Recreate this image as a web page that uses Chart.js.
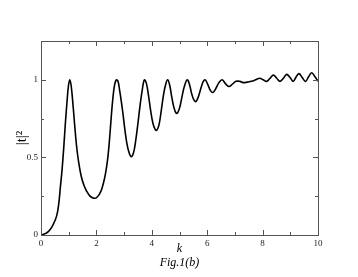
<!DOCTYPE html>
<html><head><meta charset="utf-8">
<script src="https://cdn.jsdelivr.net/npm/chart.js@4"></script>
<style>html,body{margin:0;padding:0;background:#fff}</style>
</head><body>
<canvas id="c" width="358" height="277"></canvas>
<script>
const kValues = [0,0.1,0.2,0.31,0.43,0.56,0.64,0.7,0.76,0.82,0.88,0.94,0.99,1.04,1.09,1.15,1.21,1.28,1.35,1.45,1.55,1.64,1.76,1.88,1.95,2.0,2.1,2.2,2.3,2.36,2.42,2.48,2.54,2.6,2.66,2.72,2.78,2.84,2.9,2.96,3.02,3.1,3.18,3.26,3.34,3.42,3.5,3.58,3.66,3.73,3.8,3.88,3.96,4.04,4.12,4.18,4.26,4.34,4.42,4.5,4.57,4.64,4.72,4.8,4.88,4.94,5.02,5.1,5.18,5.28,5.36,5.44,5.52,5.59,5.68,5.78,5.86,5.93,6.02,6.12,6.2,6.3,6.42,6.54,6.66,6.78,6.9,7.04,7.18,7.3,7.45,7.6,7.75,7.9,8.02,8.15,8.27,8.39,8.51,8.63,8.75,8.87,8.99,9.1,9.2,9.31,9.43,9.55,9.66,9.77,9.89,10];
const t2Values = [0,0.005,0.013,0.03,0.064,0.12,0.2,0.31,0.42,0.56,0.72,0.86,0.96,1.0,0.96,0.85,0.72,0.58,0.48,0.38,0.32,0.285,0.252,0.238,0.237,0.24,0.26,0.3,0.37,0.43,0.51,0.63,0.77,0.89,0.97,1.0,0.99,0.93,0.86,0.78,0.69,0.59,0.53,0.505,0.53,0.61,0.72,0.84,0.94,1.0,0.98,0.9,0.8,0.72,0.68,0.675,0.71,0.8,0.9,0.97,1.0,0.97,0.89,0.82,0.785,0.79,0.83,0.9,0.96,1.0,0.97,0.91,0.87,0.86,0.89,0.95,0.99,1.0,0.97,0.93,0.918,0.94,0.98,1.0,0.975,0.957,0.97,0.99,0.99,0.982,0.985,0.99,1.0,1.01,1.0,0.99,1.01,1.03,1.01,0.99,1.01,1.035,1.015,0.99,1.015,1.04,1.015,0.99,1.02,1.045,1.02,0.99];
const xMajorTicks = [0,2,4,6,8,10];
const xMinorTicks = [1,3,5,7,9];
const yMajorTicks = [0,0.5,1];
const yMinorTicks = [0.25,0.75,1.25];

const points = kValues.map((k,i)=>({x:k,y:t2Values[i]}));
const frameColor = '#555';

const framePlugin = {
  id:'frame',
  afterDraw(chart){
    const {ctx, chartArea:a, scales:{x,y}} = chart;
    ctx.save();
    ctx.strokeStyle = frameColor;
    ctx.lineWidth = 1;
    ctx.strokeRect(a.left+0.5, a.top+0.5, a.right-a.left, a.bottom-a.top);
    ctx.beginPath();
    const tx = (v,len)=>{const p=Math.round(x.getPixelForValue(v))+0.5;
      ctx.moveTo(p,a.bottom); ctx.lineTo(p,a.bottom-len);
      ctx.moveTo(p,a.top); ctx.lineTo(p,a.top+len);};
    const ty = (v,len)=>{const p=Math.round(y.getPixelForValue(v))+0.5;
      ctx.moveTo(a.left,p); ctx.lineTo(a.left+len,p);
      ctx.moveTo(a.right,p); ctx.lineTo(a.right-len,p);};
    xMajorTicks.forEach(v=>tx(v,5));
    xMinorTicks.forEach(v=>tx(v,3));
    yMajorTicks.forEach(v=>ty(v,5));
    yMinorTicks.forEach(v=>ty(v,3));
    ctx.stroke();
    ctx.restore();
  }
};

new Chart(document.getElementById('c'), {
  type:'line',
  data:{datasets:[{data:points,borderColor:'#000',borderWidth:1.6,pointRadius:0,fill:false,tension:0.4}]},
  options:{
    responsive:false, animation:false, devicePixelRatio:1,
    layout:{padding:{top:41,right:40,left:0,bottom:0}},
    plugins:{legend:{display:false},tooltip:{enabled:false}},
    scales:{
      x:{type:'linear',min:0,max:10,
        afterFit(s){s.height=42;},
        afterBuildTicks(s){s.ticks=xMajorTicks.map(v=>({value:v}));},
        grid:{display:false,drawTicks:false},
        border:{display:false},
        ticks:{color:'#222',padding:3,maxRotation:0,font:{family:'Liberation Serif',size:9},callback:v=>String(v)},
        title:{display:true,text:['k','Fig.1(b)'],color:'#000',font:{family:'Liberation Serif',size:12,style:'italic',lineHeight:1.15},padding:{top:0,bottom:7}}
      },
      y:{type:'linear',min:0,max:1.25,
        afterFit(s){s.width=41;},
        afterBuildTicks(s){s.ticks=yMajorTicks.map(v=>({value:v}));},
        grid:{display:false,drawTicks:false},
        border:{display:false},
        ticks:{color:'#222',padding:3,font:{family:'Liberation Serif',size:9},callback:v=>String(v)},
        title:{display:true,text:'|t|²',color:'#000',font:{family:'Liberation Serif',size:15},padding:{top:13,bottom:0}}
      }
    }
  },
  plugins:[framePlugin]
});
</script>
</body></html>
